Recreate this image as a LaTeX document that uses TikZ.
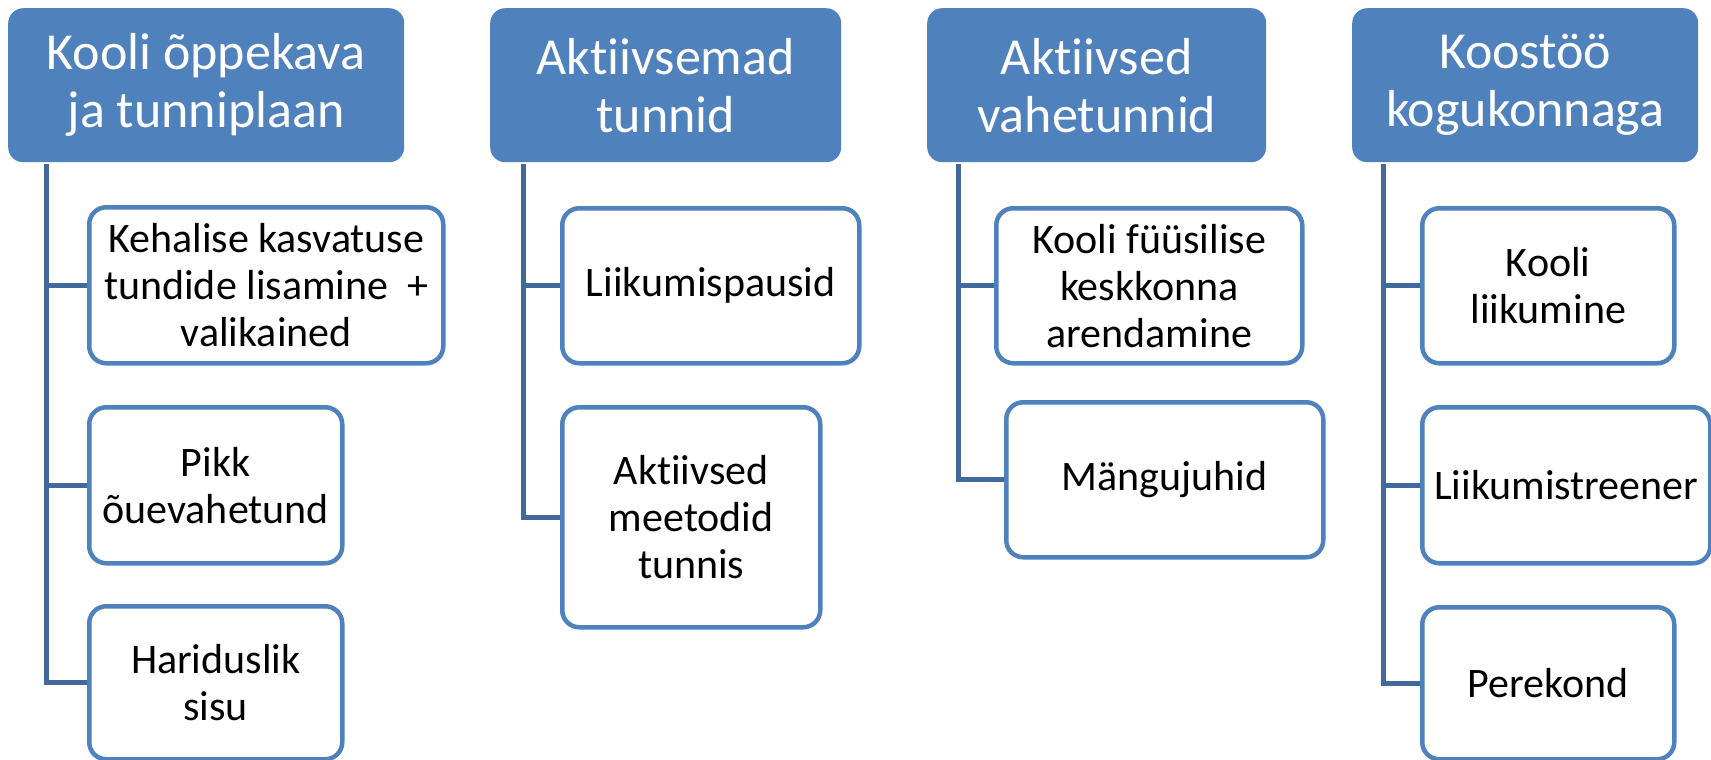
\documentclass[tikz,border=0pt]{standalone}
\usepackage{fontspec}
\setmainfont{Carlito}[Ligatures={NoCommon}]
\usepackage{tikz}
\definecolor{hdblue}{HTML}{4F81BD}
\definecolor{lnblue}{HTML}{41699B}

\begin{document}
\begin{tikzpicture}[x=1pt, y=-1pt,
  head/.style={rectangle, rounded corners=15pt, fill=hdblue, text=white, inner sep=0pt,
    align=center, anchor=north west, font=\fontsize{52}{58}\selectfont},
  item/.style={rectangle, rounded corners=17pt, draw=hdblue, line width=4.5pt, fill=white,
    inner sep=0pt, align=center, anchor=north west, font=\fontsize{42}{47}\selectfont},
  link/.style={draw=lnblue, line width=5pt}]
\useasboundingbox (0,0) rectangle (1711,760);

% headers
\node[head, minimum width=396pt, minimum height=154pt] (h1) at (8,8) {Kooli õppekava\\ja tunniplaan};
\node[head, minimum width=351pt, minimum height=154pt] (h2) at (490,8) {Aktiivsemad\\tunnid};
\node[head, minimum width=339pt, minimum height=154pt] (h3) at (927,8) {Aktiivsed\\vahetunnid};
\node[head, minimum width=346pt, minimum height=154pt] (h4) at (1352,8) {Koostöö\\kogukonnaga};

% items
\node[item, minimum width=354pt, minimum height=156pt] (k11) at (87,205) {Kehalise kasvatuse\\tundide lisamine\ \ +\\valikained};
\node[item, minimum width=253pt, minimum height=156pt] (k12) at (87,405) {Pikk\\õuevahetund};
\node[item, minimum width=253pt, minimum height=153pt] (k13) at (87,604) {Hariduslik\\sisu};
\node[item, minimum width=297pt, minimum height=155pt] (k21) at (560,206) {Liikumispausid};
\node[item, minimum width=258pt, minimum height=220pt] (k22) at (560,405) {Aktiivsed\\meetodid\\tunnis};
\node[item, minimum width=306pt, minimum height=155pt] (k31) at (994,206) {Kooli füüsilise\\keskkonna\\arendamine};
\node[item, minimum width=317pt, minimum height=155pt] (k32) at (1004,400) {Mängujuhid};
\node[item, minimum width=252pt, minimum height=155pt] (k41) at (1420,206) {Kooli\\liikumine};
\node[item, minimum width=288pt, minimum height=156pt] (k42) at (1420,405) {Liikumistreener};
\node[item, minimum width=252pt, minimum height=152pt] (k43) at (1420,605) {Perekond};

% connectors
\coordinate (t1) at (46,164);
\coordinate (t2) at (523,164);
\coordinate (t3) at (958,164);
\coordinate (t4) at (1383,164);
\draw[link] (t1) |- (k13.west);
\draw[link] (t1 |- k11.west) -- (k11.west);
\draw[link] (t1 |- k12.west) -- (k12.west);
\draw[link] (t2) |- (k22.west);
\draw[link] (t2 |- k21.west) -- (k21.west);
\draw[link] (t3) |- (k32.west);
\draw[link] (t3 |- k31.west) -- (k31.west);
\draw[link] (t4) |- (k43.west);
\draw[link] (t4 |- k41.west) -- (k41.west);
\draw[link] (t4 |- k42.west) -- (k42.west);
\end{tikzpicture}
\end{document}
